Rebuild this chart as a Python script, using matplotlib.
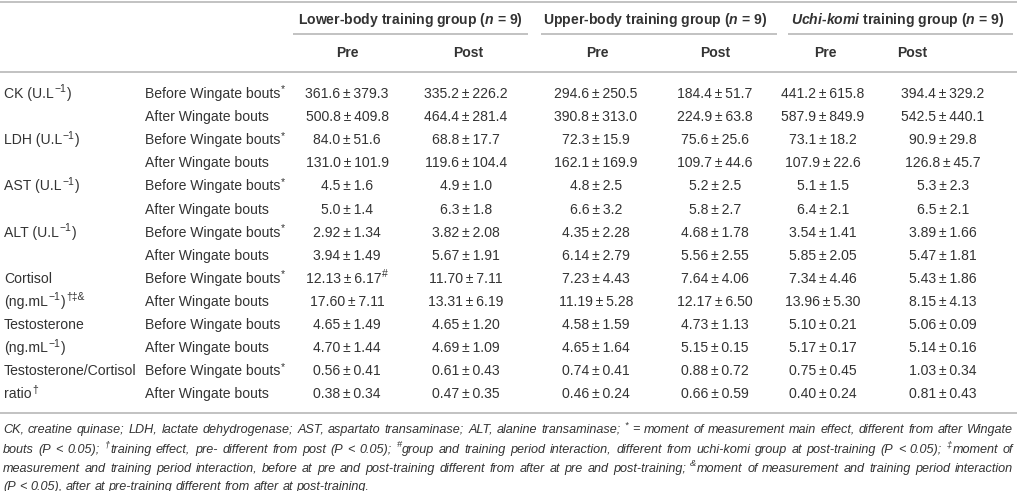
import re
import matplotlib
matplotlib.use("Agg")
import matplotlib.pyplot as plt

plt.rcParams['font.family'] = ['Liberation Sans', 'DejaVu Sans']
plt.rcParams['mathtext.fontset'] = 'custom'
plt.rcParams['mathtext.rm'] = 'Liberation Sans'
plt.rcParams['mathtext.it'] = 'Liberation Sans:italic:bold'
plt.rcParams['mathtext.bf'] = 'Liberation Sans:bold'

# ---- data ----
groups = ["Lower-body training group ($n$ = 9)",
          "Upper-body training group ($n$ = 9)",
          "$Uchi$-$komi$ training group ($n$ = 9)"]
periods = ["Pre", "Post"]
variables = ["CK (U.L^{\u22121})", "LDH (U.L^{\u22121})", "AST (U.L^{\u22121})", "ALT (U.L^{\u22121})",
             "Cortisol", "Testosterone", "Testosterone/Cortisol"]
variables_2nd = ["", "", "", "", "(ng.mL^{\u22121})^{\u2020\u2021&}", "(ng.mL^{\u22121})", "ratio^{\u2020}"]
moments = ["Before Wingate bouts^{*}", "After Wingate bouts"]
moments_plain = ["Before Wingate bouts", "After Wingate bouts"]
starred = [True, True, True, True, True, False, True]
decimals = [1, 1, 1, 2, 2, 2, 2]

lower_pre_m = [361.6, 500.8, 84.0, 131.0, 4.5, 5.0, 2.92, 3.94, 12.13, 17.60, 4.65, 4.70, 0.56, 0.38]
lower_pre_sd = [379.3, 409.8, 51.6, 101.9, 1.6, 1.4, 1.34, 1.49, 6.17, 7.11, 1.49, 1.44, 0.41, 0.34]
lower_post_m = [335.2, 464.4, 68.8, 119.6, 4.9, 6.3, 3.82, 5.67, 11.70, 13.31, 4.65, 4.69, 0.61, 0.47]
lower_post_sd = [226.2, 281.4, 17.7, 104.4, 1.0, 1.8, 2.08, 1.91, 7.11, 6.19, 1.20, 1.09, 0.43, 0.35]
upper_pre_m = [294.6, 390.8, 72.3, 162.1, 4.8, 6.6, 4.35, 6.14, 7.23, 11.19, 4.58, 4.65, 0.74, 0.46]
upper_pre_sd = [250.5, 313.0, 15.9, 169.9, 2.5, 3.2, 2.28, 2.79, 4.43, 5.28, 1.59, 1.64, 0.41, 0.24]
upper_post_m = [184.4, 224.9, 75.6, 109.7, 5.2, 5.8, 4.68, 5.56, 7.64, 12.17, 4.73, 5.15, 0.88, 0.66]
upper_post_sd = [51.7, 63.8, 25.6, 44.6, 2.5, 2.7, 1.78, 2.55, 4.06, 6.50, 1.13, 0.15, 0.72, 0.59]
uchi_pre_m = [441.2, 587.9, 73.1, 107.9, 5.1, 6.4, 3.54, 5.85, 7.34, 13.96, 5.10, 5.17, 0.75, 0.40]
uchi_pre_sd = [615.8, 849.9, 18.2, 22.6, 1.5, 2.1, 1.41, 2.05, 4.46, 5.30, 0.21, 0.17, 0.45, 0.24]
uchi_post_m = [394.4, 542.5, 90.9, 126.8, 5.3, 6.5, 3.89, 5.47, 5.43, 8.15, 5.06, 5.14, 1.03, 0.81]
uchi_post_sd = [329.2, 440.1, 29.8, 45.7, 2.3, 2.1, 1.66, 1.81, 1.86, 4.13, 0.09, 0.16, 0.34, 0.43]
# extra mark on a single cell: (row, column) -> superscript
cell_marks = {(8, 0): "#"}

footnote = [
    "CK, creatine quinase; LDH, lactate dehydrogenase; AST, aspartato transaminase; ALT, alanine transaminase; ^{*} = moment of measurement main effect, different from after Wingate",
    "bouts (P < 0.05); ^{\u2020}training effect, pre- different from post (P < 0.05); ^{#}group and training period interaction, different from uchi-komi group at post-training (P < 0.05); ^{\u2021}moment of",
    "measurement and training period interaction, before at pre and post-training different from after at pre and post-training; ^{&}moment of measurement and training period interaction",
    "(P < 0.05), after at pre-training different from after at post-training.",
]

columns = [(lower_pre_m, lower_pre_sd), (lower_post_m, lower_post_sd),
           (upper_pre_m, upper_pre_sd), (upper_post_m, upper_post_sd),
           (uchi_pre_m, uchi_pre_sd), (uchi_post_m, uchi_post_sd)]

# ---- layout ----
W, H = 1017, 491
PX = 100 / 72  # pixels per point
txt = '#333333'
line_c = '#bdbdbd'
fs = 10.1
col_x = [347, 466, 596, 715, 823, 943]
head_x = [347, 468, 597, 715, 825, 912]
grp_x = [410, 655, 898]
grp_span = [(293, 528), (541, 777), (788, 1013)]
row_y0, row_dy = 93, 23.1

fig = plt.figure(figsize=(W / 100, H / 100), dpi=100)
ax = fig.add_axes([0, 0, 1, 1])
ax.set_xlim(0, W)
ax.set_ylim(H, 0)
ax.axis('off')
renderer = fig.canvas.get_renderer()


def rich(s, yc, size, **kw):
    """text with ^{..} superscripts centred on cap height at yc; returns objects, offsets, width"""
    base = yc + 0.36 * size * PX
    parts = re.split(r"(\^\{.*?\})", s)
    objs, offs = [], []
    x = 0.0
    for p in parts:
        if not p:
            continue
        if p.startswith('^{'):
            o = ax.text(0, base - 0.40 * size * PX, p[2:-1], ha='left', va='baseline',
                        fontsize=size * 0.74, color=txt, **kw)
        else:
            o = ax.text(0, base, p, ha='left', va='baseline', fontsize=size, color=txt, **kw)
        w = o.get_window_extent(renderer).width
        if p.endswith(' '):
            w += size * 0.278 * PX
        objs.append(o)
        offs.append(x)
        x += w + 0.6
    return objs, offs, x - 0.6


def place(objs, offs, x0):
    for o, dx in zip(objs, offs):
        o.set_x(x0 + dx)


def rich_text(x, y, s, size, ha='left', **kw):
    objs, offs, w = rich(s, y, size, **kw)
    if ha == 'center':
        x = x - w / 2
    place(objs, offs, x)
    return w


for y in [2, 72, 413]:
    ax.plot([0, W], [y, y], color=line_c, lw=1.3, solid_capstyle='butt')
for (a, b) in grp_span:
    ax.plot([a, b], [34, 34], color=line_c, lw=1.3, solid_capstyle='butt')

for g, x in zip(groups, grp_x):
    ax.text(x, 19 + 0.36 * fs * PX, g, ha='center', va='baseline', fontsize=fs,
            fontweight='bold', color=txt)
for i, x in enumerate(head_x):
    ax.text(x, 52 + 0.36 * fs * PX, periods[i % 2], ha='center', va='baseline', fontsize=fs,
            fontweight='bold', color=txt)

for v in range(len(variables)):
    for m in range(2):
        r = v * 2 + m
        y = row_y0 + r * row_dy
        lab = variables[v] if m == 0 else variables_2nd[v]
        if lab:
            rich_text(4, y, lab, fs)
        mom = moments[m] if (m == 0 and starred[v]) else moments_plain[m]
        rich_text(145, y, mom, fs)
        d = decimals[v]
        for c, (mean, sd) in enumerate(columns):
            s = f"{mean[r]:.{d}f}\u2009\u00b1\u2009{sd[r]:.{d}f}"
            if (r, c) in cell_marks:
                s = s + "^{" + cell_marks[(r, c)] + "}"
            rich_text(col_x[c], y, s, fs, ha='center')

# footnote: font size fitted so the first line fills the width, then justified
x_left, x_right = 3, 1013
probe = ax.text(0, 0, re.sub(r"\^\{(.*?)\}", r"\1", footnote[0]), fontsize=8, fontstyle='italic')
foot_fs = 8 * (x_right - x_left - 4) / probe.get_window_extent(renderer).width
probe.remove()
foot_y = [428, 448, 467, 485]
space_px = foot_fs * 0.278 * PX
for i, line in enumerate(footnote):
    words = line.split(' ')
    items = [rich(w, foot_y[i], foot_fs, fontstyle='italic') for w in words]
    total = sum(it[2] for it in items)
    if i < len(footnote) - 1:
        gap = (x_right - x_left - total) / (len(words) - 1)
    else:
        gap = space_px
    x = x_left
    for objs, offs, w in items:
        place(objs, offs, x)
        x += w + gap

fig.savefig("out.png", dpi=100)
